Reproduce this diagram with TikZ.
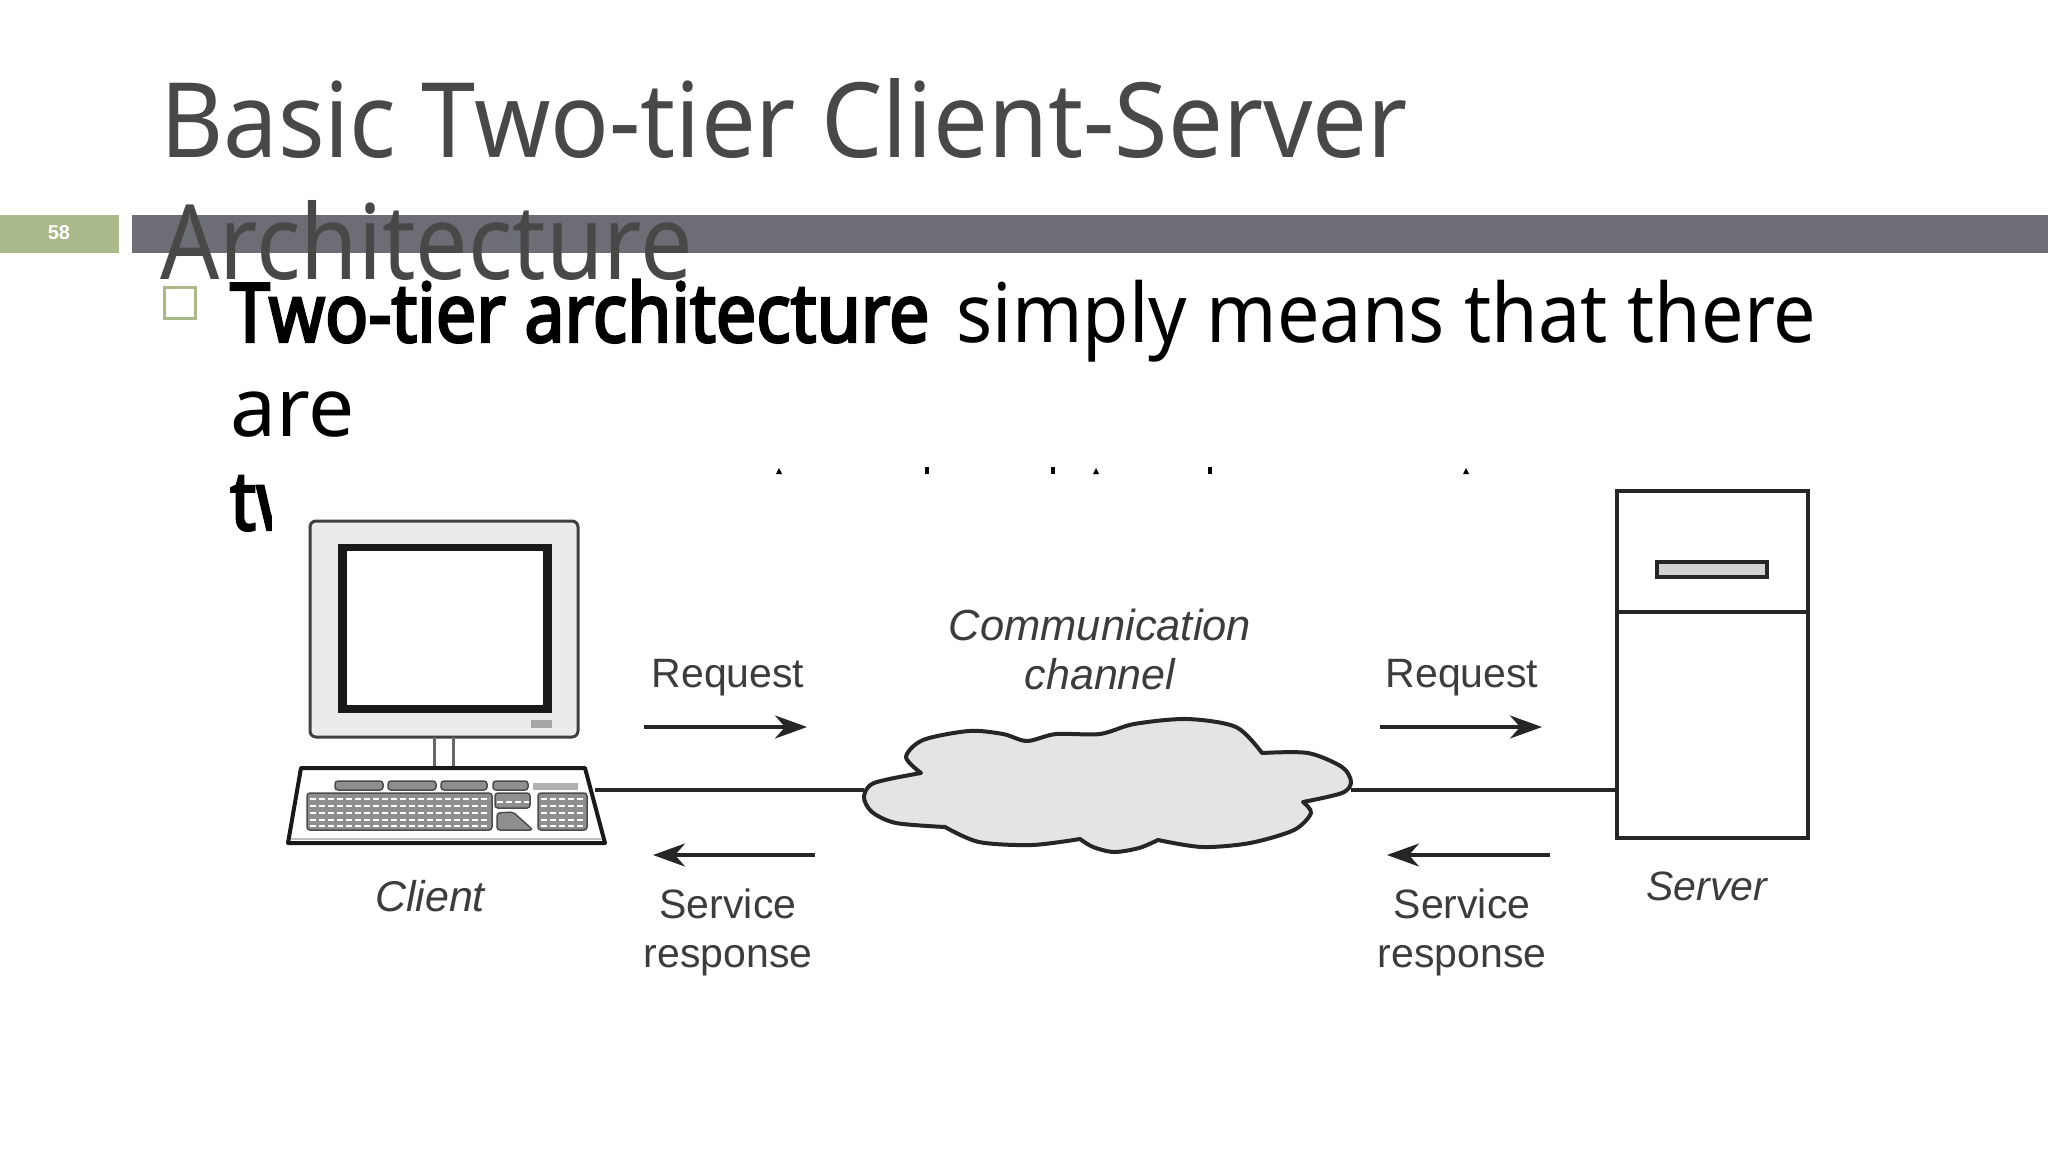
\documentclass[tikz,border=0pt]{standalone}
\usepackage{fontspec}
\setmainfont{Noto Sans}
\newfontfamily\figfont{Liberation Sans}
\newfontfamily\titlefont[FakeStretch=0.936]{Noto Sans}
\newfontfamily\archfont[FakeStretch=0.894]{Noto Sans}
\newfontfamily\tightfont[FakeStretch=0.92]{Noto Sans}
\newfontfamily\heavyfont[FakeStretch=0.874, FakeBold=3]{Noto Sans}
\usetikzlibrary{arrows.meta}

\definecolor{titlegrey}{HTML}{484848}
\definecolor{bargrey}{HTML}{6D6D76}
\definecolor{sagegreen}{HTML}{A9B98A}
\definecolor{figgrey}{HTML}{3C3C3C}
\definecolor{cloudgrey}{HTML}{E4E4E4}
\definecolor{keygrey}{HTML}{8E8E8E}

\tikzset{
	titletext/.style={anchor=base west, inner sep=0pt, text=titlegrey, font=\titlefont\fontsize{104}{104}\selectfont},
	bodytext/.style={anchor=base west, inner sep=0pt, text=black, font=\fontsize{82}{82}\selectfont},
	figlabel/.style={anchor=base, inner sep=0pt, text=figgrey, font=\figfont\fontsize{41}{41}\selectfont},
	figname/.style={figlabel, font=\figfont\itshape\fontsize{43}{43}\selectfont},
	flow/.style={line width=3.5pt, draw=black!85, -{Stealth[length=32pt, width=23pt, inset=10pt]}},
	link/.style={line width=4pt, draw=black!85},
	box/.style={draw=black!85, line width=4.5pt, fill=white, inner sep=0pt},
	keyblock/.style={fill=keygrey, draw=black!70, line width=1.5pt, rounded corners=3pt},
}

\begin{document}
\begin{tikzpicture}[x=1pt, y=-1pt]
	\useasboundingbox (0, 0) rectangle (2048, 1152);
	\fill[white] (0, 0) rectangle (2048, 1152);

	% slide header
	\fill[sagegreen] (0, 215) rectangle (119, 253);
	\fill[bargrey] (132, 215) rectangle (2048, 253);
	\node[white, font=\figfont\bfseries\fontsize{20}{20}\selectfont] (pagenum) at (59, 233) {58};
	\node[titletext] (title1) at (160, 157) {Basic Two-tier Client-Server};
	\node[titletext, font=\archfont\fontsize{104}{104}\selectfont] (title2) at (160, 279) {Architecture};

	% slide text
	\node[draw=sagegreen, line width=3pt, minimum size=31pt, inner sep=0pt] (bullet) at (180, 303) {};
	\node[bodytext] (line1) at (230, 342) {{\heavyfont Two-tier architecture}\hspace{6pt} {\tightfont simply means that there}};
	\node[bodytext] (line2) at (230, 436) {are};
	\node[bodytext] (line3) at (230, 530) {\heavyfont tw};

	% the figure is pasted over the text
	\fill[white] (272, 474) rectangle (1830, 1000);
	\foreach \dx in {927, 1053, 1210} {
		\fill[black] (\dx-2, 467) rectangle (\dx+2, 474);
	}
	\foreach \dx in {779, 1096, 1466} {
		\fill[black] (\dx-3, 474) -- (\dx, 468) -- (\dx+3, 474) -- cycle;
	}

	% client
	\node[draw=black!75, fill=black!8, line width=3pt, rounded corners=6pt, minimum width=268pt, minimum height=216pt, inner sep=0pt] (monitor) at (444, 629) {};
	\fill[black!90] (338, 544) rectangle (552, 713);
	\fill[white] (347, 551) rectangle (543, 705);
	\fill[black!35] (531, 720) rectangle (552, 728);
	\draw[black!60, line width=3pt] (434, 737) -- (434, 768);
	\draw[black!60, line width=3pt] (453, 737) -- (453, 768);
	\draw[black!90, fill=white, line width=4pt, line join=round] (301, 768) -- (585, 768) -- (605, 843) -- (288, 843) -- cycle;
	\draw[black!25, line width=2pt] (291, 839) -- (602, 839);
	\foreach \xa/\xb in {335/383, 388/436, 441/487, 493/528} {
		\draw[keyblock] (\xa, 781) rectangle (\xb, 790);
	}
	\fill[black!30] (533, 783) rectangle (578, 790);
	\draw[keyblock] (307, 793) rectangle (492, 830);
	\draw[keyblock] (495, 793) rectangle (530, 808);
	\draw[keyblock] (497, 813) -- (513, 812) -- (533, 830) -- (497, 830) -- cycle;
	\draw[keyblock] (538, 793) rectangle (587, 830);
	\foreach \ky in {799, 806, 813, 820, 826} {
		\draw[white, line width=1.5pt, dash pattern=on 6pt off 3pt] (310, \ky) -- (490, \ky);
		\draw[white, line width=1.5pt, dash pattern=on 6pt off 3pt] (541, \ky) -- (585, \ky);
	}
	\draw[white, line width=1.5pt, dash pattern=on 6pt off 3pt] (497, 802) -- (529, 802);
	\coordinate (kbport) at (595, 790);
	\node[figname] (clientlab) at (430, 911) {Client};

	% cloud
	\draw[black!85, fill=cloudgrey, line width=4pt, line join=round]
		plot[smooth] coordinates {(921, 773) (906, 757) (923, 740) (969, 731) (1003, 734) (1027, 741) (1056, 734) (1100, 734) (1134, 724) (1187, 719) (1236, 727) (1262, 753)}
		-- plot[smooth] coordinates {(1262, 753) (1308, 753) (1342, 767) (1351, 782) (1342, 793) (1303, 802)}
		-- plot[smooth] coordinates {(1303, 802) (1311, 813) (1294, 830) (1250, 843) (1202, 847) (1158, 840)}
		-- plot[smooth] coordinates {(1158, 840) (1139, 848) (1114, 852) (1093, 847) (1080, 839)}
		-- plot[smooth] coordinates {(1080, 839) (1032, 845) (979, 842) (945, 827)}
		-- plot[smooth] coordinates {(945, 827) (896, 823) (872, 812) (864, 797) (874, 783) (921, 773)}
		-- cycle;
	\coordinate (cloudwest) at (864, 790);
	\coordinate (cloudeast) at (1351, 790);
	\node[figname, font=\figfont\itshape\fontsize{43.5}{43.5}\selectfont] (commlab) at (1100, 640) {Communication};
	\node[figname] (chanlab) at (1100, 689) {channel};

	% server
	\node[box, minimum width=191pt, minimum height=347pt] (server) at (1712.5, 664.5) {};
	\draw[black!85, line width=4pt] (server.west |- 0, 612) -- (server.east |- 0, 612);
	\draw[black!85, fill=black!18, line width=4pt] (1657, 562) rectangle (1767, 577);
	\coordinate (serverport) at (server.west |- 0, 790);
	\node[figname, font=\figfont\itshape\fontsize{41}{41}\selectfont] (serverlab) at (1707, 900) {Server};

	% connectors
	\draw[link] (kbport) -- (cloudwest);
	\draw[link] (cloudeast) -- (serverport);

	% flows on the left
	\coordinate (reqLa) at (644, 727);
	\coordinate (reqLb) at (807, 727);
	\coordinate (resLa) at (815, 855);
	\coordinate (resLb) at (653, 855);
	\draw[flow] (reqLa) -- (reqLb);
	\draw[flow] (resLa) -- (resLb);
	\node[figlabel] (reqL) at (728, 687) {Request};
	\node[figlabel] (srvL) at (728, 918) {Service};
	\node[figlabel] (rspL) at (728, 967) {response};

	% flows on the right
	\coordinate (reqRa) at (1380, 727);
	\coordinate (reqRb) at (1542, 727);
	\coordinate (resRa) at (1550, 855);
	\coordinate (resRb) at (1387, 855);
	\draw[flow] (reqRa) -- (reqRb);
	\draw[flow] (resRa) -- (resRb);
	\node[figlabel] (reqR) at (1462, 687) {Request};
	\node[figlabel] (srvR) at (1462, 918) {Service};
	\node[figlabel] (rspR) at (1462, 967) {response};
\end{tikzpicture}
\end{document}
